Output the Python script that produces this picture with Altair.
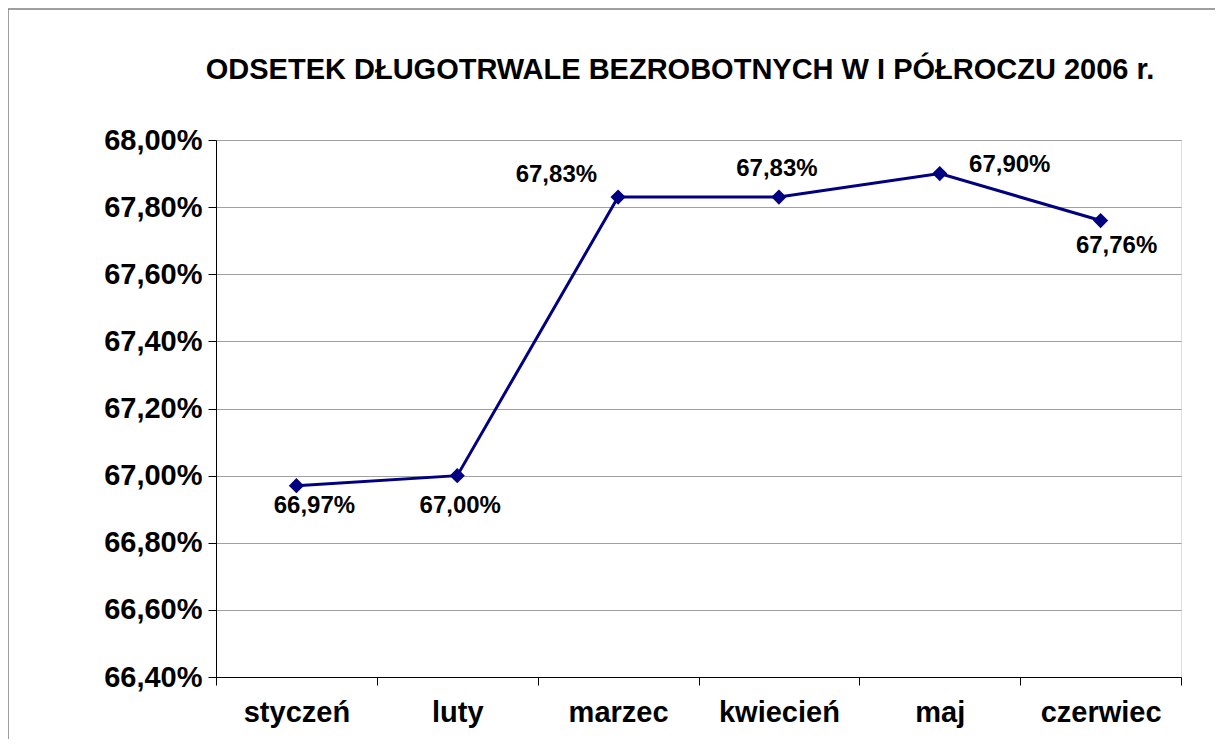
import altair as alt
import pandas as pd

months = ["styczeń", "luty", "marzec", "kwiecień", "maj", "czerwiec"]
values = [66.97, 67.00, 67.83, 67.83, 67.90, 67.76]
y_ticks = [66.4, 66.6, 66.8, 67.0, 67.2, 67.4, 67.6, 67.8, 68.0]
title_text = "ODSETEK DŁUGOTRWALE BEZROBOTNYCH W I PÓŁROCZU 2006 r."

df = pd.DataFrame({"month": months, "value": values})

FONT = "Liberation Sans"
NAVY = "#000080"

x_enc = alt.X(
    "month:N",
    sort=months,
    bandPosition=0.5,
    scale=alt.Scale(type="band", paddingInner=0, paddingOuter=0),
    axis=alt.Axis(
        title=None, labelAngle=0, tickBand="extent", grid=False,
        labelFont=FONT, labelFontSize=29, labelFontWeight="bold", labelColor="black",
        domainColor="black", tickColor="black", tickSize=8, labelPadding=13,
    ),
)
y_enc = alt.Y(
    "value:Q",
    scale=alt.Scale(domain=[66.4, 68.0], nice=False, zero=False),
    axis=alt.Axis(
        title=None, values=y_ticks, grid=True, gridColor="#a0a0a0", gridWidth=1,
        labelExpr="replace(format(datum.value, '.2f'), '.', ',') + '%'",
        labelFont=FONT, labelFontSize=29, labelFontWeight="bold", labelColor="black",
        domainColor="black", tickColor="black", tickSize=8, labelPadding=6,
    ),
)

base = alt.Chart(df).encode(x=x_enc, y=y_enc)

line = base.mark_line(color=NAVY, strokeWidth=3)
pts = base.mark_point(shape="diamond", size=230, filled=True, color=NAVY, opacity=1)

lbl = base.transform_calculate(
    label="replace(format(datum.value, '.2f'), '.', ',') + '%'"
)

def text_layer(sel, dx, dy, align="center"):
    return lbl.transform_filter(
        alt.FieldOneOfPredicate(field="month", oneOf=sel)
    ).mark_text(
        font=FONT, fontSize=24, fontWeight="bold", color="black",
        align=align, baseline="alphabetic", dx=dx, dy=dy,
    ).encode(text="label:N")

t1 = text_layer([months[0]], 18, 27)
t2 = text_layer([months[1]], 3, 37)
t3 = text_layer([months[2]], -21, -15, align="right")
t4 = text_layer([months[3]], -2, -21)
t5 = text_layer([months[4]], 70, -2)
t6 = text_layer([months[5]], 16, 32)

one = pd.DataFrame({"t": [title_text]})
frame = alt.Chart(one).mark_rect(fill=None, stroke="#808080", strokeWidth=1.5).encode(
    x=alt.value(-208), x2=alt.value(1200), y=alt.value(-131), y2=alt.value(900)
)
title = alt.Chart(one).mark_text(
    font=FONT, fontSize=29, fontWeight="bold", color="black",
    align="center", baseline="alphabetic",
).encode(text="t:N", x=alt.value(464), y=alt.value(-61))

chart = alt.layer(frame, title, line, pts, t1, t2, t3, t4, t5, t6).properties(
    width=965,
    height=537,
    autosize=alt.AutoSizeParams(type="none"),
    padding={"left": 208, "top": 132, "right": 34, "bottom": 62},
).configure_view(stroke="#808080", strokeWidth=1).configure(background="white")

chart.save("out.html", embed_options={"renderer": "svg", "actions": False})
